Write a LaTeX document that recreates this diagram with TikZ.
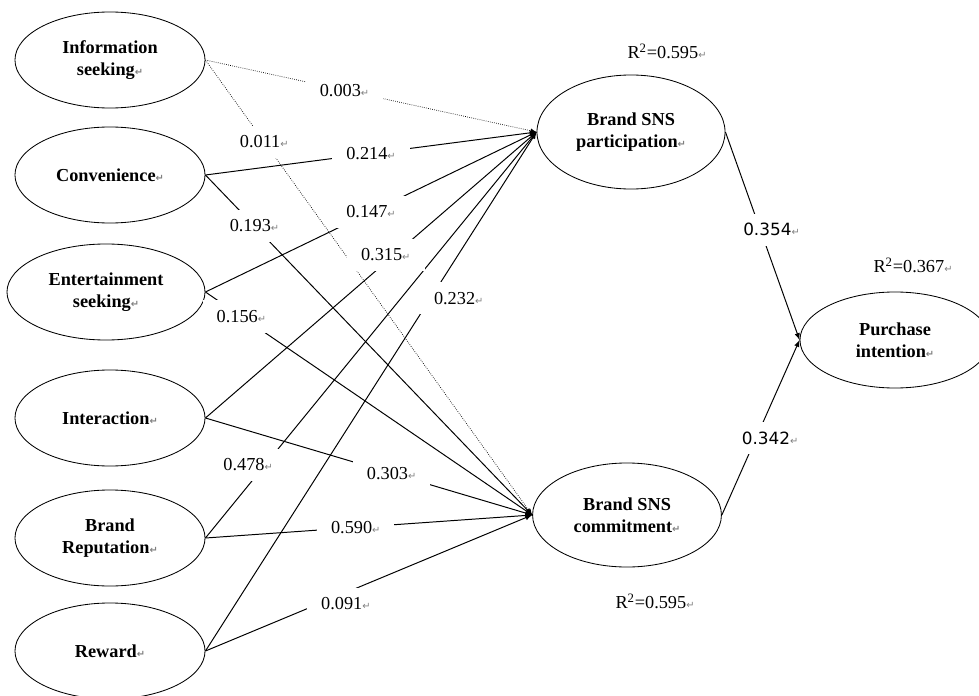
\documentclass[tikz,border=0pt]{standalone}
\usepackage{fontspec}
\setmainfont{Liberation Serif}
\newfontfamily\arrowfont{DejaVu Sans}
\usetikzlibrary{shapes.geometric,calc}
\newcommand{\ret}{{\arrowfont\fontsize{7}{7}\selectfont\color{gray}↵}}
\newcommand{\rsq}[1]{R\textsuperscript{2}=#1\ret}

\begin{document}
\begin{tikzpicture}[x=0.025cm, y=-0.025cm, >=latex,
  latent/.style={ellipse, draw, line width=0.6pt, minimum width=4.75cm, minimum height=2.4cm,
    inner sep=0pt, align=center, font=\fontsize{13}{15.6}\selectfont\bfseries},
  effect/.style={->, line width=0.7pt},
  weak/.style={->, densely dotted, line width=0.5pt},
  coef/.style={fill=white, inner xsep=10pt, inner ysep=7pt, font=\fontsize{13}{15}\selectfont},
  sanscoef/.style={coef, font=\arrowfont\fontsize{12}{14}\selectfont},
  rlabel/.style={font=\fontsize{13}{15}\selectfont}]

  \useasboundingbox (0,0) rectangle (979,696);
  \clip (0,0) rectangle (979,696);

  % Antecedents on the left
  \node[latent] (info) at (110,60) {Information\\seeking\ret};
  \node[latent] (conv) at (110,175) {Convenience\ret};
  \node[latent, minimum width=4.95cm] (ent) at (106,292) {Entertainment\\seeking\ret};
  \node[latent] (inter) at (110,418) {Interaction\ret};
  \node[latent] (rep) at (110,538) {Brand\\Reputation\ret};
  \node[latent] (reward) at (110,651) {Reward\ret};

  % Mediators and outcome
  \node[latent, minimum width=4.7cm, minimum height=2.85cm] (part) at (631,132) {Brand SNS\\participation\ret};
  \node[latent, minimum width=4.72cm, minimum height=2.6cm] (commit) at (627,515) {Brand SNS\\commitment\ret};
  \node[latent] (purch) at (895,340) {Purchase\\intention\ret};

  % R-squared values
  \node[rlabel] (r2part) at (667,51) {\rsq{0.595}};
  \node[rlabel] (r2commit) at (655,601) {\rsq{0.595}};
  \node[rlabel] (r2purch) at (913,265) {\rsq{0.367}};

  % Paths
  \draw[weak] (info.east) -- (part.west);
  \draw[weak] (info.east) -- (commit.west);
  \draw[effect] (conv.east) -- (part.west);
  \draw[effect] (conv.east) -- (commit.west);
  \draw[effect] (ent.east) -- (part.west);
  \draw[effect] (ent.east) -- (commit.west);
  \draw[effect] (inter.east) -- (part.west);
  \draw[effect] (inter.east) -- (commit.west);
  \draw[effect] (rep.east) -- (part.west);
  \draw[effect] (rep.east) -- (commit.west);
  \draw[effect] (reward.east) -- (part.west);
  \draw[effect] (reward.east) -- (commit.west);
  \draw[effect] (part.east) -- (purch.west);
  \draw[effect] (commit.east) -- (purch.west);

  % Path coefficients
  \node[coef] (c003) at ($(info.east)!.42!(part.west)$) {0.003\ret};
  \node[coef] (c011) at ($(info.east)!.18!(commit.west)$) {0.011\ret};
  \node[coef] (c214) at ($(conv.east)!.5!(part.west)$) {0.214\ret};
  \node[coef] (c193) at ($(conv.east)!.15!(commit.west)$) {0.193\ret};
  \node[coef] (c147) at ($(ent.east)!.5!(part.west)$) {0.147\ret};
  \node[coef] (c156) at ($(ent.east)!.11!(commit.west)$) {0.156\ret};
  \node[coef, xshift=-6] (c315) at ($(inter.east)!.57!(part.west)$) {0.315\ret};
  \node[coef] (c303) at ($(inter.east)!.57!(commit.west)$) {0.303\ret};
  \node[coef, xshift=-12] (c478) at ($(rep.east)!.18!(part.west)$) {0.478\ret};
  \node[coef] (c590) at ($(rep.east)!.46!(commit.west)$) {0.590\ret};
  \node[coef, xshift=20] (c232) at ($(reward.east)!.68!(part.west)$) {0.232\ret};
  \node[coef, yshift=-8] (c091) at ($(reward.east)!.43!(commit.west)$) {0.091\ret};
  \node[sanscoef, xshift=8] (c354) at ($(part.east)!.47!(purch.west)$) {0.354\ret};
  \node[sanscoef, xshift=10] (c342) at ($(commit.east)!.44!(purch.west)$) {0.342\ret};

\end{tikzpicture}
\end{document}
